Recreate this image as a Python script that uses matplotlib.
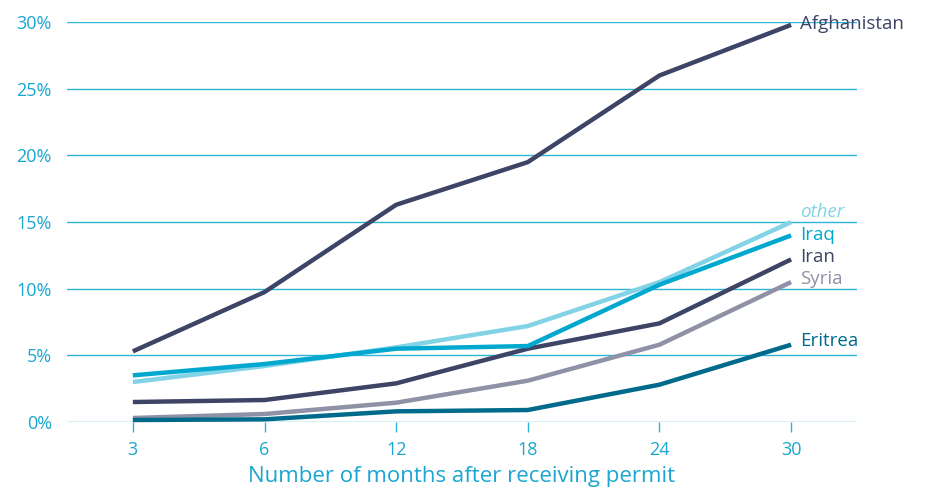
import matplotlib.pyplot as plt

months = ["3", "6", "12", "18", "24", "30"]
afghanistan = [5.3, 9.75, 16.3, 19.5, 26.0, 29.8]
other = [3.0, 4.2, 5.6, 7.2, 10.5, 15.0]
iraq = [3.5, 4.35, 5.5, 5.7, 10.3, 14.0]
iran = [1.5, 1.65, 2.9, 5.5, 7.4, 12.2]
syria = [0.3, 0.6, 1.45, 3.1, 5.8, 10.5]
eritrea = [0.15, 0.2, 0.8, 0.9, 2.8, 5.8]

series = [
    ("Syria", syria, "#8f91a6", 10.75, "normal"),
    ("Iran", iran, "#3d4466", 12.35, "normal"),
    ("other", other, "#82d3e6", 15.75, "italic"),
    ("Iraq", iraq, "#00a8cf", 14.05, "normal"),
    ("Eritrea", eritrea, "#006a8c", 6.05, "normal"),
    ("Afghanistan", afghanistan, "#3d4466", 29.85, "normal"),
]

plt.rcParams["font.family"] = ["Open Sans", "DejaVu Sans"]
grid_col = "#2db5d8"
text_col = "#1aa6d0"

fig = plt.figure(figsize=(9.26, 4.93), dpi=100)
ax = fig.add_axes([0.0724, 0.144, 0.853, 0.811])

x = list(range(len(months)))
for yv in range(0, 31, 5):
    ax.axhline(yv, color=grid_col, lw=1, zorder=1)

for name, vals, col, ly, style in series:
    ax.plot(x, vals, color=col, lw=3.2, solid_capstyle="butt", zorder=3, clip_on=False)
    ax.text(5.07, ly, name, color=col, fontsize=13.5, style=style, va="center", ha="left")

ax.set_xlim(-0.5, 5.5)
ax.set_ylim(0, 30)
ax.set_xticks(x)
ax.set_xticklabels(months)
ax.set_yticks(range(0, 31, 5))
ax.set_yticklabels([f"{v}%" for v in range(0, 31, 5)])
ax.tick_params(axis="x", colors=grid_col, length=7, width=1, labelcolor=text_col,
               labelsize=13, pad=7)
ax.tick_params(axis="y", length=0, labelcolor=text_col, labelsize=13, pad=11)
for s in ax.spines.values():
    s.set_visible(False)
ax.set_xlabel("Number of months after receiving permit", color=text_col, fontsize=16,
              labelpad=5)

fig.savefig("out.png", dpi=100)
